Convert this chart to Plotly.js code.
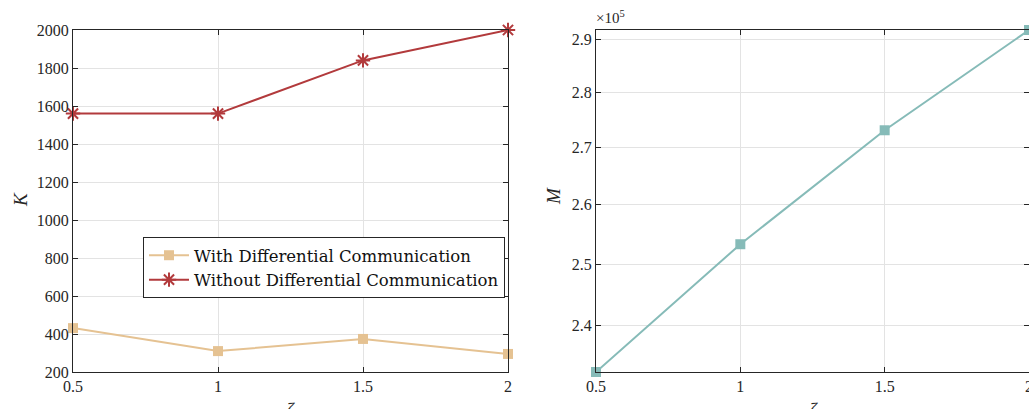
<!DOCTYPE html>
<html>
<head>
<meta charset="utf-8">
<script src="https://cdn.plot.ly/plotly-3.0.1.min.js"></script>
<style>html,body{margin:0;padding:0;background:#fff;}#chart{width:1029px;height:409px;}</style>
</head>
<body>
<div id="chart"></div>
<script>
// Data
const zeta = [0.5, 1, 1.5, 2];
const kWith = [431, 310, 374, 295];
const kWithout = [1560, 1560, 1840, 2000];
const mValues = [232800, 253300, 273100, 291800];
const xTicks = [0.5, 1, 1.5, 2];
const xTickText = ['0.5', '1', '1.5', '2'];
const kTicks = [200, 400, 600, 800, 1000, 1200, 1400, 1600, 1800, 2000];
const mTicks = [240000, 250000, 260000, 270000, 280000, 290000];
const mTickText = ['2.4', '2.5', '2.6', '2.7', '2.8', '2.9'];
const seriesNames = ['With Differential Communication', 'Without Differential Communication'];

const W = 1029, H = 409;
const FONT = 'Liberation Serif';
const LEGFONT = 'DejaVu Serif';
const AX = '#262626';
const GRID = '#e3e3e3';

const axisCommon = {
  showline: true, linecolor: AX, linewidth: 1, mirror: 'ticks',
  ticks: 'inside', ticklen: 5, tickcolor: AX, tickwidth: 1,
  showgrid: true, gridcolor: GRID, gridwidth: 1, zeroline: false,
  tickfont: {family: FONT, size: 16, color: AX}, automargin: false, fixedrange: true,
  ticklabeloverflow: 'allow'
};

const yTop = (H - 30) / H, yBot = (H - 372) / H;

const traces = [
  {x: zeta, y: kWith, name: seriesNames[0], type: 'scatter', mode: 'lines+markers',
   line: {color: '#e5c292', width: 2}, marker: {symbol: 'square', size: 10, color: '#e5c292'},
   xaxis: 'x', yaxis: 'y', cliponaxis: false},
  {x: zeta, y: kWithout, name: seriesNames[1], type: 'scatter', mode: 'lines+markers',
   line: {color: '#b23a3c', width: 2}, marker: {symbol: 'asterisk-open', size: 12, color: '#b23a3c', line: {color: '#b23a3c', width: 2}},
   xaxis: 'x', yaxis: 'y', cliponaxis: false},
  {x: zeta, y: mValues, name: 'M', type: 'scatter', mode: 'lines+markers', showlegend: false,
   line: {color: '#86bbb8', width: 2}, marker: {symbol: 'square', size: 10, color: '#86bbb8'},
   xaxis: 'x2', yaxis: 'y2', cliponaxis: false}
];

const layout = {
  width: W, height: H,
  margin: {l: 0, r: 0, t: 0, b: 0},
  paper_bgcolor: '#fff', plot_bgcolor: '#fff',
  font: {family: FONT, color: AX},
  xaxis: Object.assign({}, axisCommon, {domain: [73 / W, 508 / W], range: [0.5, 2], tickvals: xTicks, ticktext: xTickText, anchor: 'y'}),
  yaxis: Object.assign({}, axisCommon, {domain: [yBot, yTop], range: [200, 2000], tickvals: kTicks, anchor: 'x'}),
  xaxis2: Object.assign({}, axisCommon, {domain: [596 / W, 1], range: [0.5, 2], tickvals: xTicks, ticktext: xTickText, anchor: 'y2'}),
  yaxis2: Object.assign({}, axisCommon, {domain: [yBot, yTop], type: 'log',
    range: [Math.log10(mValues[0]), Math.log10(mValues[3])], tickvals: mTicks, ticktext: mTickText, anchor: 'x2'}),
  showlegend: true,
  legend: {x: 143 / W, y: (H - 237) / H, xanchor: 'left', yanchor: 'top',
    bgcolor: '#fff', bordercolor: AX, borderwidth: 1,
    font: {family: LEGFONT, size: 16.5, color: '#111'}, tracegroupgap: 0, itemwidth: 40},
  annotations: [
    {text: '<i>K</i>', xref: 'paper', yref: 'paper', x: 20 / W, y: (H - 200) / H, textangle: -90,
     showarrow: false, font: {family: FONT, size: 19, color: AX}, xanchor: 'center', yanchor: 'middle'},
    {text: '<i>M</i>', xref: 'paper', yref: 'paper', x: 553 / W, y: (H - 196) / H, textangle: -90,
     showarrow: false, font: {family: FONT, size: 19, color: AX}, xanchor: 'center', yanchor: 'middle'},
    {text: '×10<sup>5</sup>', xref: 'paper', yref: 'paper', x: 594 / W, y: (H - 28) / H,
     showarrow: false, font: {family: FONT, size: 15, color: AX}, xanchor: 'left', yanchor: 'bottom'},
    {text: '<i>ζ</i>', xref: 'paper', yref: 'paper', x: 290 / W, y: (H - 397) / H,
     showarrow: false, font: {family: FONT, size: 19, color: AX}, xanchor: 'center', yanchor: 'top'},
    {text: '<i>ζ</i>', xref: 'paper', yref: 'paper', x: 813 / W, y: (H - 397) / H,
     showarrow: false, font: {family: FONT, size: 19, color: AX}, xanchor: 'center', yanchor: 'top'}
  ]
};

Plotly.newPlot('chart', traces, layout, {staticPlot: true, displayModeBar: false});
</script>
</body>
</html>
